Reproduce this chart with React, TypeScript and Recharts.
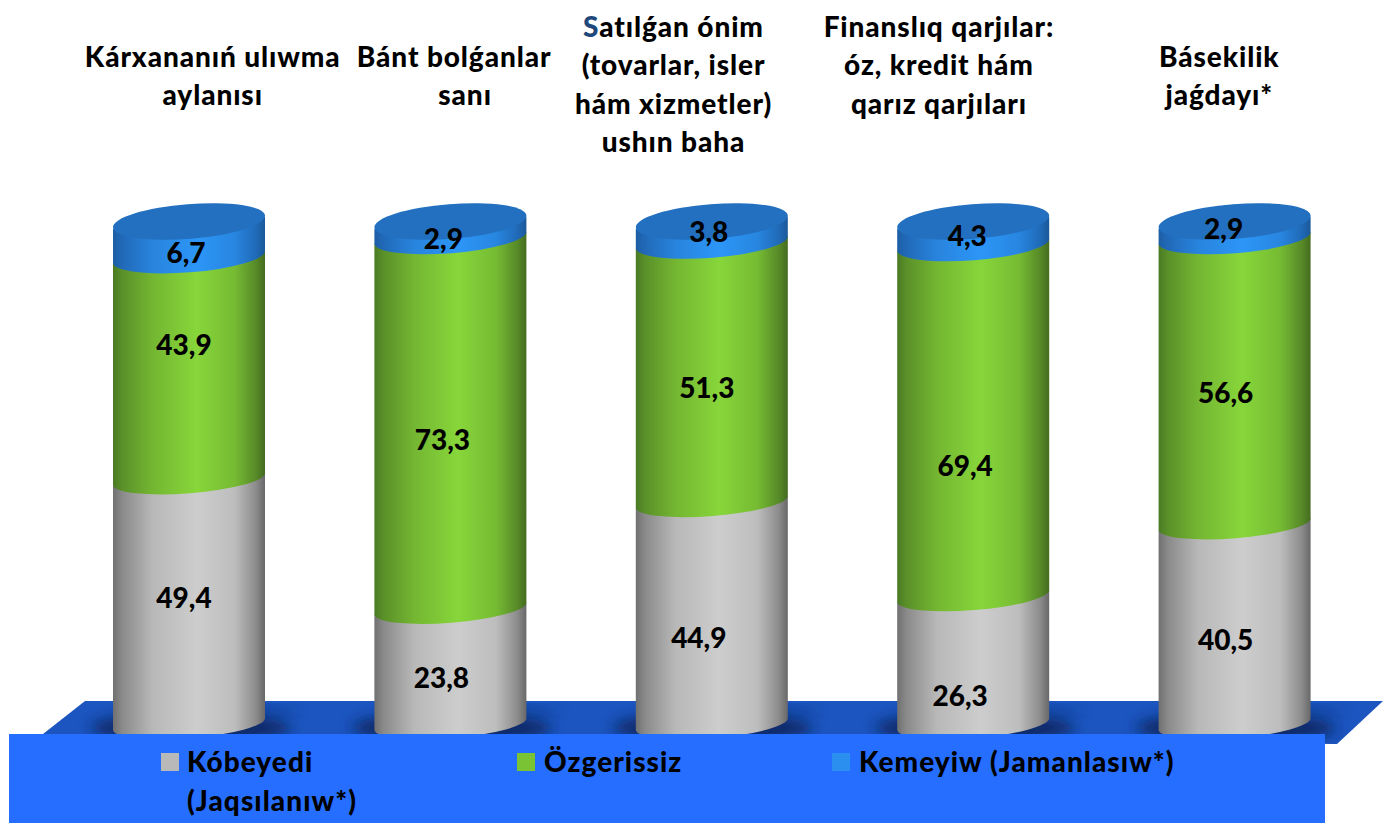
import React from "react";
import { BarChart, Bar, XAxis, YAxis, Legend, LabelList } from "recharts";

const categories = [
  "Kárxananıń ulıwma\naylanısı",
  "Bánt bolǵanlar\nsanı",
  "Satılǵan ónim\n(tovarlar, isler\nhám xizmetler)\nushın baha",
  "Finanslıq qarjılar:\nóz, kredit hám\nqarız qarjıları",
  "Básekilik\njaǵdayı*",
];
const increased = [49.4, 23.8, 44.9, 26.3, 40.5];
const unchanged = [43.9, 73.3, 51.3, 69.4, 56.6];
const decreased = [6.7, 2.9, 3.8, 4.3, 2.9];
const seriesNames = ["Kóbeyedi (Jaqsılanıw*)", "Özgerissiz", "Kemeyiw (Jamanlasıw*)"];

const data = categories.map((category, i) => ({
  category,
  increased: increased[i],
  unchanged: unchanged[i],
  decreased: decreased[i],
}));

const FONT = "Lato, 'Open Sans', sans-serif";
const WEIGHT = 900;
const TITLE_SIZE = 28;
const LABEL_SIZE = 28;
const TILT = 6;

// style offsets
const titleDx = [24, 4, -38, -34, -15];
const titleLine2Dx = [0, 11, 0, 0, 0];
const titleFirstY = [58, 58, 28, 28, 58];
const labelOffsets: Record<string, [number, number][]> = {
  increased: [[-5, -5], [-9, 10], [-13, 24], [-13, 34.5], [-9, 14.5]],
  unchanged: [[-5, -22], [-8, 18], [-5, 17], [-8, 47], [-9, 13]],
  decreased: [[-3, 14], [-7, 10], [-3, 0], [-6, 3], [-11, 0]],
};
const swatches = ["#b9b9b9", "#79c335", "#2b8ff0"];
const legendX = [161, 517, 832];

function Cylinder(props: any, gradient: string, ry: number, baseLift: number, isTop: boolean) {
  const { x, y, width, height } = props;
  const rx = width / 2;
  const a = Math.sqrt(rx * rx + TILT * TILT);
  const rot = (-Math.atan2(TILT, rx) * 180) / Math.PI;
  const by = y + height - baseLift;
  const d = `M${x},${y + TILT} L${x + width},${y - TILT} L${x + width},${by - TILT} A${a},${ry} ${rot} 0 1 ${x},${by + TILT} Z`;
  return (
    <g>
      <path d={d} fill={`url(#${gradient})`} />
      {isTop && (
        <ellipse
          cx={x + rx}
          cy={y - 1.5}
          rx={a}
          ry={17.3}
          fill="#2270bf"
          transform={`rotate(${rot} ${x + rx} ${y - 1.5})`}
        />
      )}
    </g>
  );
}

function CategoryTick(props: any) {
  const { x, payload, index } = props;
  const lines = String(payload.value).split("\n");
  const cx = x + titleDx[index];
  return (
    <g>
      {lines.map((line: string, li: number) => (
        <text
          key={li}
          x={cx + (li === 1 ? titleLine2Dx[index] : 0)}
          y={titleFirstY[index] + li * 38.4 + 9}
          textAnchor="middle"
          fontFamily={FONT}
          fontWeight={WEIGHT}
          fontSize={TITLE_SIZE}
          letterSpacing={0.9}
          fill="#000"
        >
          {index === 2 && li === 0 ? (
            <>
              <tspan fill="#1f497d">{line[0]}</tspan>
              {line.slice(1)}
            </>
          ) : (
            line
          )}
        </text>
      ))}
    </g>
  );
}

const makeLabel = (key: string) => (props: any) => {
  const { x, y, width, height, value, index } = props;
  const [dx, dy] = labelOffsets[key][index];
  return (
    <text
      x={x + width / 2 + dx}
      y={y + height / 2 + dy + 9}
      textAnchor="middle"
      fontFamily={FONT}
      fontWeight={WEIGHT}
      fontSize={LABEL_SIZE}
      fill="#000"
    >
      {String(value).replace(".", ",")}
    </text>
  );
};

function LegendContent() {
  const textStyle: React.CSSProperties = {
    position: "absolute",
    fontFamily: FONT,
    fontWeight: WEIGHT,
    fontSize: TITLE_SIZE,
    letterSpacing: 1.05,
    lineHeight: "38.5px",
    color: "#000",
    whiteSpace: "pre",
  };
  return (
    <div style={{ position: "relative", width: 1316, height: 89, background: "#266eff" }}>
      {seriesNames.map((name, i) => (
        <React.Fragment key={name}>
          <div
            style={{
              position: "absolute",
              left: legendX[i] - 9,
              top: 19,
              width: 18,
              height: 18,
              background: swatches[i],
            }}
          />
          <div style={{ ...textStyle, left: legendX[i] - 9 + (i === 0 ? 26 : 27), top: 8 }}>
            {i === 0 ? name.replace(" (", "\n(") : name}
          </div>
        </React.Fragment>
      ))}
    </div>
  );
}

function Gradient({ id, stops }: { id: string; stops: string[] }) {
  const offsets = ["0%", "6%", "26%", "55%", "80%", "94%", "100%"];
  return (
    <linearGradient id={id} x1="0" y1="0" x2="1" y2="0">
      {stops.map((c, i) => (
        <stop key={i} offset={offsets[i]} stopColor={c} />
      ))}
    </linearGradient>
  );
}

const shadowCenters = [189, 450, 711, 973, 1234];
const FLOOR = "85,701 1383,701 1337,744 43,734";

export default function App() {
  return (
    <div style={{ position: "absolute", left: 0, top: 0, width: 1383, height: 823, overflow: "hidden", background: "#fff" }}>
      <svg width={1383} height={823} style={{ position: "absolute", left: 0, top: 0 }}>
        <defs>
          <filter id="blur" x="-30%" y="-80%" width="160%" height="260%">
            <feGaussianBlur stdDeviation="7" />
          </filter>
          <clipPath id="floorClip">
            <polygon points={FLOOR} />
          </clipPath>
        </defs>
        <polygon points={FLOOR} fill="#1c55bf" />
        <g clipPath="url(#floorClip)">
          {shadowCenters.map((c) => (
            <g key={c}>
              <ellipse cx={c + 2} cy={728} rx={100} ry={15} fill="#0c2760" opacity={0.95} filter="url(#blur)" />
              <ellipse cx={c + 60} cy={711} rx={50} ry={3} fill="#0e2c6a" opacity={0.6} filter="url(#blur)" />
            </g>
          ))}
        </g>
      </svg>
      <div style={{ position: "absolute", left: 0, top: 0 }}>
        <BarChart
          width={1383}
          height={823}
          data={data}
          barSize={152}
          margin={{ top: 23, right: 18, bottom: 5, left: 58 }}
          style={{ background: "transparent" }}
        >
          <defs>
            <Gradient id="gGray" stops={["#707070", "#8a8a8a", "#b8b8b8", "#cdcdcd", "#bdbdbd", "#8c8c8c", "#686868"]} />
            <Gradient id="gGreen" stops={["#4a7a24", "#5a9029", "#74b632", "#87d63a", "#76bb33", "#578a28", "#446c1f"]} />
            <Gradient id="gBlue" stops={["#1d5ea4", "#2169b8", "#2884dd", "#2c96f7", "#2886e0", "#206ab8", "#1b5899"]} />
          </defs>
          <XAxis
            dataKey="category"
            orientation="top"
            height={200}
            axisLine={false}
            tickLine={false}
            interval={0}
            tick={CategoryTick}
          />
          <YAxis hide domain={[0, 100]} />
          <Legend
            verticalAlign="bottom"
            content={LegendContent}
            wrapperStyle={{ left: 9, bottom: 0, width: 1316, height: 89 }}
          />
          <Bar
            dataKey="increased"
            name={seriesNames[0]}
            stackId="a"
            fill="#b9b9b9"
            isAnimationActive={false}
            shape={(p: any) => Cylinder(p, "gGray", 14.2, 5, false)}
          >
            <LabelList dataKey="increased" content={makeLabel("increased")} />
          </Bar>
          <Bar
            dataKey="unchanged"
            name={seriesNames[1]}
            stackId="a"
            fill="#79c335"
            isAnimationActive={false}
            shape={(p: any) => Cylinder(p, "gGreen", 14.2, 0, false)}
          >
            <LabelList dataKey="unchanged" content={makeLabel("unchanged")} />
          </Bar>
          <Bar
            dataKey="decreased"
            name={seriesNames[2]}
            stackId="a"
            fill="#2b8ff0"
            isAnimationActive={false}
            shape={(p: any) => Cylinder(p, "gBlue", 15.5, 0, true)}
          >
            <LabelList dataKey="decreased" content={makeLabel("decreased")} />
          </Bar>
        </BarChart>
      </div>
    </div>
  );
}
